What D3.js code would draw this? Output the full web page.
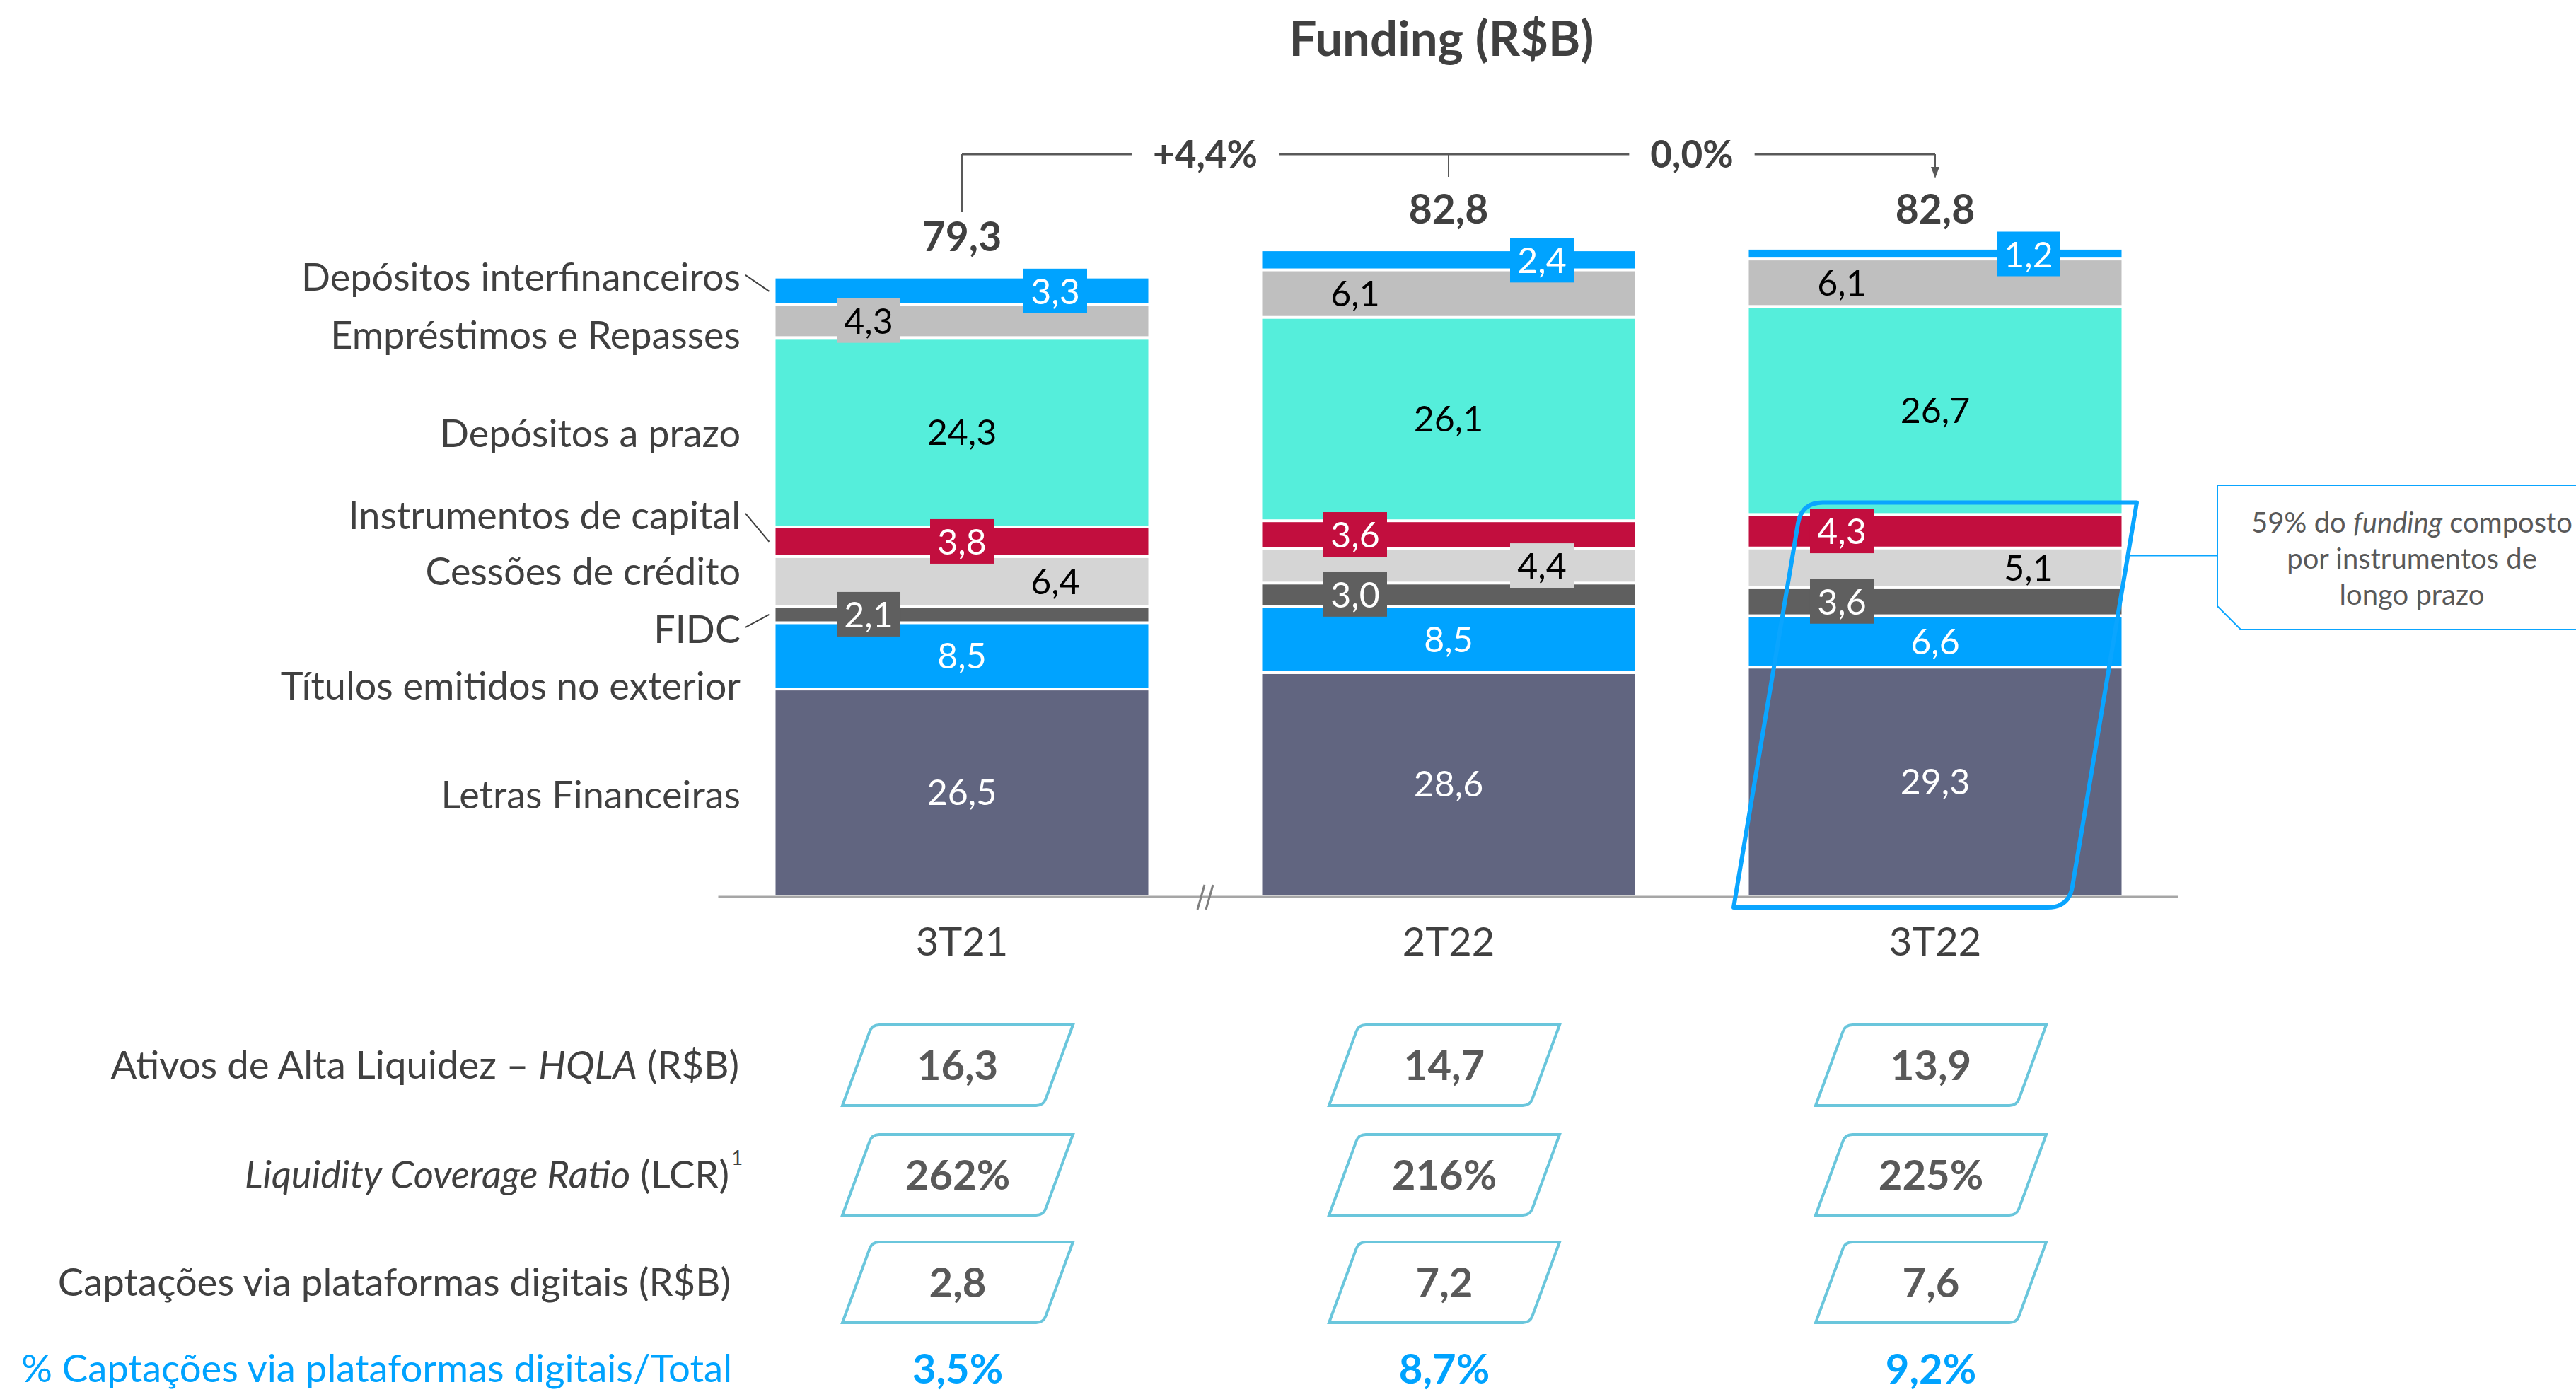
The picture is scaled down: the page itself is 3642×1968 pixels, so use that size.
<!DOCTYPE html>
<html>
<head>
<meta charset="utf-8">
<script src="https://cdn.jsdelivr.net/npm/d3@7"></script>
<style>
  html, body { margin: 0; padding: 0; background: #fff; }
  svg { display: block; font-family: Lato, "Open Sans", sans-serif; }
</style>
</head>
<body>
<div class="container"></div>
<script>
// ---- data (R$ bilhões) ----
const categories = ["3T21", "2T22", "3T22"]
const seriesNames = ["Letras Financeiras", "Títulos emitidos no exterior", "FIDC", "Cessões de crédito",
                     "Instrumentos de capital", "Depósitos a prazo", "Empréstimos e Repasses", "Depósitos interfinanceiros"]
const letrasFinanceiras   = [26.5, 28.6, 29.3]
const titulosExterior     = [8.5, 8.5, 6.6]
const fidc                = [2.1, 3.0, 3.6]
const cessoesCredito      = [6.4, 4.4, 5.1]
const instrumentosCapital = [3.8, 3.6, 4.3]
const depositosPrazo      = [24.3, 26.1, 26.7]
const emprestimosRepasses = [4.3, 6.1, 6.1]
const depositosInterfin   = [3.3, 2.4, 1.2]
const totals = [79.3, 82.8, 82.8]
const growth = ["+4,4%", "0,0%"]

const hqla = [16.3, 14.7, 13.9]
const lcr = [262, 216, 225]
const captacoesDigitais = [2.8, 7.2, 7.6]
const captacoesPct = [3.5, 8.7, 9.2]

const seriesValues = [letrasFinanceiras, titulosExterior, fidc, cessoesCredito,
                      instrumentosCapital, depositosPrazo, emprestimosRepasses, depositosInterfin]

// ---- look ----
const colors   = ["#616580", "#00A3FF", "#5F5F5F", "#D5D5D5", "#C20E3E", "#55EEDB", "#BFBFBF", "#00A3FF"]
const inkColor = ["#fff", "#fff", "#fff", "#000", "#fff", "#000", "#000", "#fff"]
// where each value label sits in its bar: c = centre, l = left, r = right
const labelSide  = [["c","c","c"],["c","c","c"],["l","l","l"],["r","r","r"],["c","l","l"],["c","c","c"],["l","l","l"],["r","r","r"]]
const labelBoxed = [[0,0,0],[0,0,0],[1,1,1],[0,1,0],[1,1,1],[0,0,0],[1,0,0],[1,1,1]]
const legendShift  = [4, 43, 21, -14, -37, 2, 20, -20]
const legendLeader = [false, false, true, false, true, false, false, true]

const W = 3642, H = 1968
const baseY = 1266
const fmt = d3.formatLocale({decimal: ",", thousands: ".", grouping: [3], currency: ["R$", ""]}).format(".1f")

const svg = d3.select(".container").append("svg")
    .attr("width", W)
    .attr("height", H)

const x = d3.scaleBand()
    .domain(categories)
    .range([1096.5, 2999.5])
    .paddingInner(0.234)
    .paddingOuter(0)
const bw = x.bandwidth()
const cx = c => x(c) + bw / 2

const y = d3.scaleLinear()
    .domain([0, 82.8])
    .range([baseY, 354])

const rows = categories.map((c, i) => {
    const r = {cat: c}
    seriesNames.forEach((s, j) => r[s] = seriesValues[j][i])
    return r
})
const stacked = d3.stack().keys(seriesNames)(rows)

// title
svg.append("text")
    .attr("x", 2038).attr("y", 55).attr("dy", "0.35em")
    .attr("text-anchor", "middle")
    .attr("font-size", 69).attr("font-weight", 700).attr("fill", "#404040")
    .text("Funding (R$B)")

// ---- bars ----
const gap = 4
const last = seriesNames.length - 1
stacked.forEach((layer, j) => {
    svg.append("g").selectAll("rect")
        .data(layer)
        .enter()
        .append("rect")
        .attr("x", d => x(d.data.cat))
        .attr("width", bw)
        .attr("y", d => y(d[1]) + (j === last ? 0 : gap / 2))
        .attr("height", d => y(d[0]) - y(d[1]) - (j === last ? 0 : gap / 2) - (j === 0 ? 0 : gap / 2))
        .attr("fill", colors[j])
})

// value labels
stacked.forEach((layer, j) => {
    layer.forEach((d, i) => {
        const side = labelSide[j][i]
        const lx = cx(d.data.cat) + (side === "l" ? -132 : side === "r" ? 132 : 0)
        const ly = (y(d[0]) + y(d[1])) / 2
        if (labelBoxed[j][i]) {
            svg.append("rect")
                .attr("x", lx - 45).attr("y", ly - 32)
                .attr("width", 90).attr("height", 63)
                .attr("fill", colors[j])
        }
        svg.append("text")
            .attr("x", lx).attr("y", ly).attr("dy", "0.36em")
            .attr("text-anchor", "middle")
            .attr("font-size", 50).attr("fill", inkColor[j])
            .text(fmt(d.data[seriesNames[j]]))
    })
})

// series names on the left, placed against the first bar
const firstBar = categories[0]
stacked.forEach((layer, j) => {
    const d = layer[0]
    const segMid = (y(d[0]) + y(d[1])) / 2
    const ty = segMid + legendShift[j]
    svg.append("text")
        .attr("x", 1047).attr("y", ty).attr("dy", "0.35em")
        .attr("text-anchor", "end")
        .attr("font-size", 54).attr("fill", "#404040")
        .text(seriesNames[j])
    if (legendLeader[j]) {
        svg.append("line")
            .attr("x1", 1054).attr("y1", ty - 3)
            .attr("x2", x(firstBar) - 9).attr("y2", segMid)
            .attr("stroke", "#404040").attr("stroke-width", 2)
    }
})

// baseline + break mark
svg.append("line")
    .attr("x1", x.range()[0] - 81).attr("x2", x.range()[1] + 80)
    .attr("y1", baseY + 2).attr("y2", baseY + 2)
    .attr("stroke", "#A6A6A6").attr("stroke-width", 3)
const brk = (cx(categories[0]) + cx(categories[1])) / 2
;[-6, 6].forEach(o => {
    svg.append("line")
        .attr("x1", brk + o - 5).attr("y1", baseY + 20)
        .attr("x2", brk + o + 5).attr("y2", baseY - 15)
        .attr("stroke", "#7F7F7F").attr("stroke-width", 3)
})

// category axis
svg.append("g")
    .attr("transform", `translate(0,${baseY + 2})`)
    .call(d3.axisBottom(x).tickSize(0).tickPadding(43))
    .call(g => g.select(".domain").remove())
    .attr("font-family", "Lato, sans-serif")
    .attr("font-size", 56)
    .selectAll("text").attr("fill", "#404040")

// totals above the bars
categories.forEach((c, i) => {
    svg.append("text")
        .attr("x", cx(c)).attr("y", y(totals[i]) - 58).attr("dy", "0.35em")
        .attr("text-anchor", "middle")
        .attr("font-size", 57).attr("font-weight", 700).attr("fill", "#404040")
        .text(fmt(totals[i]))
})

// growth bracket
const bracketY = 218
const bracketColor = "#595959"
const gTexts = growth.map((g, i) => {
    const mx = (cx(categories[i]) + cx(categories[i + 1])) / 2
    const t = svg.append("text")
        .attr("x", mx).attr("y", bracketY).attr("dy", "0.35em")
        .attr("text-anchor", "middle")
        .attr("font-size", 53).attr("font-weight", 700).attr("fill", "#404040")
        .text(g)
    return {mx: mx, half: t.node().getComputedTextLength() / 2 + 30}
})
const stops = [cx(categories[0])]
gTexts.forEach(g => { stops.push(g.mx - g.half); stops.push(g.mx + g.half) })
stops.push(cx(categories[2]))
for (let k = 0; k < stops.length; k += 2) {
    svg.append("line")
        .attr("x1", stops[k]).attr("x2", stops[k + 1])
        .attr("y1", bracketY).attr("y2", bracketY)
        .attr("stroke", bracketColor).attr("stroke-width", 3)
}
svg.append("line")
    .attr("x1", cx(categories[0])).attr("x2", cx(categories[0]))
    .attr("y1", bracketY).attr("y2", 300)
    .attr("stroke", bracketColor).attr("stroke-width", 2)
svg.append("line")
    .attr("x1", cx(categories[1])).attr("x2", cx(categories[1]))
    .attr("y1", bracketY).attr("y2", 250)
    .attr("stroke", bracketColor).attr("stroke-width", 2)
const ax = cx(categories[2])
svg.append("line")
    .attr("x1", ax).attr("x2", ax)
    .attr("y1", bracketY).attr("y2", 238)
    .attr("stroke", bracketColor).attr("stroke-width", 2)
svg.append("path")
    .attr("d", `M${ax - 6},236 L${ax + 6},236 L${ax},252 Z`)
    .attr("fill", bracketColor)

// ---- long-term highlight on the last bar ----
const longTerm = d3.sum(seriesValues.slice(0, 5), v => v[2])
function slantBox(xc, top, bottom, halfW, slant, r) {
    // parallelogram leaning right, rounded at top-left and bottom-right
    const h = bottom - top
    const len = Math.hypot(slant, h)
    const ux = slant / len, uy = h / len
    const tl = [xc - halfW + slant / 2, top], tr = [xc + halfW + slant / 2, top]
    const br = [xc + halfW - slant / 2, bottom], bl = [xc - halfW - slant / 2, bottom]
    const p = d3.path()
    p.moveTo(bl[0], bl[1])
    p.lineTo(tl[0] - ux * r, tl[1] + uy * r)
    p.quadraticCurveTo(tl[0], tl[1], tl[0] + r, tl[1])
    p.lineTo(tr[0], tr[1])
    p.lineTo(br[0] + ux * r, br[1] - uy * r)
    p.quadraticCurveTo(br[0], br[1], br[0] - r, br[1])
    p.closePath()
    return p.toString()
}
const hlTop = y(longTerm) - 17, hlBottom = baseY + 17
svg.append("path")
    .attr("d", slantBox(cx(categories[2]), hlTop, hlBottom, 237, 96, 30))
    .attr("fill", "none").attr("stroke", "#0AA5FF").attr("stroke-width", 6)
    .attr("stroke-linejoin", "round")

// callout
const calloutY = hlTop + 75
svg.append("line")
    .attr("x1", cx(categories[2]) + 237 + 48 * (1 - 2 * (calloutY - hlTop) / (hlBottom - hlTop)))
    .attr("x2", 3135)
    .attr("y1", calloutY).attr("y2", calloutY)
    .attr("stroke", "#0AA5FF").attr("stroke-width", 2)
svg.append("path")
    .attr("d", "M3135,686 L3660,686 L3660,890 L3168,890 L3135,857 Z")
    .attr("fill", "#fff").attr("stroke", "#0AA5FF").attr("stroke-width", 2)
const cLines = [[["59% do ", 0], ["funding", 1], [" composto", 0]], [["por instrumentos de", 0]], [["longo prazo", 0]]]
cLines.forEach((parts, k) => {
    const t = svg.append("text")
        .attr("x", 3410).attr("y", 739 + k * 51).attr("dy", "0.35em")
        .attr("text-anchor", "middle")
        .attr("font-size", 40).attr("fill", "#595959")
    parts.forEach(p => t.append("tspan").attr("font-style", p[1] ? "italic" : null).text(p[0]))
})

// ---- liquidity table ----
const tableLabels = [
    [["Ativos de Alta Liquidez – ", 0], ["HQLA", 1], [" (R$B)", 0]],
    [["Liquidity Coverage Ratio", 1], [" (LCR)", 0]],
    [["Captações via plataformas digitais (R$B)", 0]],
    [["% Captações via plataformas digitais/Total", 0]]
]
const tableValues = [
    hqla.map(fmt),
    lcr.map(v => v + "%"),
    captacoesDigitais.map(fmt),
    captacoesPct.map(v => fmt(v) + "%")
]
const rowY = [1506, 1661, 1813, 1935]
const rowEnd = [1045, 1031, 1033, 1035]

tableLabels.forEach((parts, r) => {
    const blue = r === 3
    const t = svg.append("text")
        .attr("x", rowEnd[r]).attr("y", rowY[r]).attr("dy", "0.35em")
        .attr("text-anchor", "end")
        .attr("font-size", 54.5).attr("fill", blue ? "#00A3FF" : "#404040")
    parts.forEach(p => t.append("tspan").attr("font-style", p[1] ? "italic" : null).text(p[0]))
    if (r === 1) {
        svg.append("text")
            .attr("x", rowEnd[r] + 3).attr("y", rowY[r] - 14)
            .attr("font-size", 28).attr("fill", "#404040")
            .text("1")
    }
})

tableValues.forEach((vals, r) => {
    categories.forEach((c, i) => {
        const vx = cx(c) - 6
        if (r < 3) {
            svg.append("path")
                .attr("d", slantBox(vx, rowY[r] - 57, rowY[r] + 57, 142, 42, 10))
                .attr("fill", "none").attr("stroke", "#6AC6DC").attr("stroke-width", 4)
        }
        svg.append("text")
            .attr("x", vx).attr("y", rowY[r]).attr("dy", "0.36em")
            .attr("text-anchor", "middle")
            .attr("font-size", 58).attr("font-weight", 700)
            .attr("fill", r === 3 ? "#00A3FF" : "#595959")
            .text(vals[i])
    })
})
</script>
</body>
</html>
